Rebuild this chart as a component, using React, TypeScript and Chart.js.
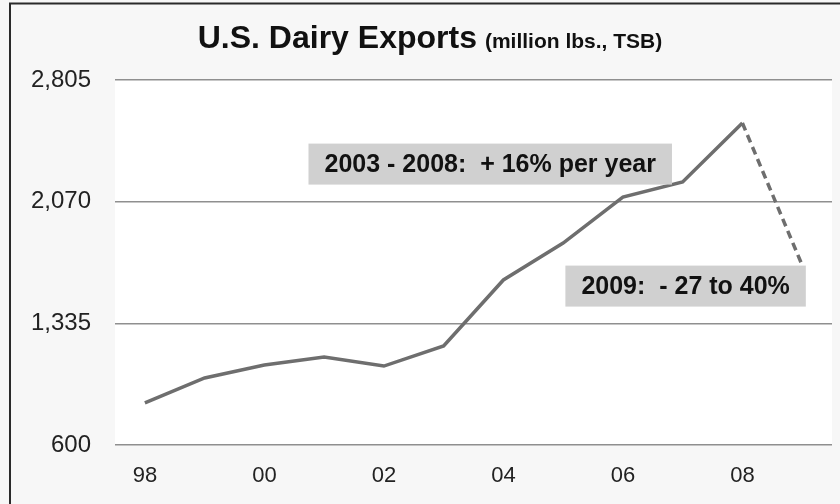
import React, { useEffect, useRef } from "react";
import { Chart, registerables } from "chart.js";

Chart.register(...registerables);

const years = ["98", "99", "00", "01", "02", "03", "04", "05", "06", "07", "08", "09"];
const exportsLbs = [854, 1005, 1083, 1131, 1077, 1198, 1597, 1820, 2098, 2189, 2545, 1687];
const yTicks = [600, 1335, 2070, 2805];
const titleMain = "U.S. Dairy Exports";
const titleSub = "(million lbs., TSB)";
const noteTexts = ["2003 - 2008:  + 16% per year", "2009:  - 27 to 40%"];
const noteX = [5.78, 9.05];
const noteY = [2297, 1560];

const FONT = '"Liberation Sans", Arial, Helvetica, sans-serif';

const decorPlugin = {
  id: "decor",
  beforeDraw(chart: any) {
    const { ctx, chartArea, width, height } = chart;
    ctx.save();
    ctx.fillStyle = "#f7f7f7";
    ctx.fillRect(0, 0, width, height);
    ctx.fillStyle = "#ffffff";
    ctx.fillRect(chartArea.left, chartArea.top, chartArea.right - chartArea.left, chartArea.bottom - chartArea.top);
    ctx.strokeStyle = "#2a2a2a";
    ctx.lineWidth = 2;
    ctx.beginPath();
    ctx.moveTo(10, height);
    ctx.lineTo(10, 3.5);
    ctx.lineTo(width, 3.5);
    ctx.stroke();
    ctx.restore();
  },
  afterDraw(chart: any) {
    const { ctx, scales } = chart;
    ctx.save();
    // title
    ctx.fillStyle = "#111111";
    ctx.textBaseline = "alphabetic";
    ctx.textAlign = "left";
    ctx.font = `bold 32px ${FONT}`;
    const w1 = ctx.measureText(titleMain).width;
    ctx.font = `bold 21px ${FONT}`;
    const w2 = ctx.measureText(titleSub).width;
    const gap = 8;
    const total = w1 + gap + w2;
    const cx = chart.width / 2 + 10;
    const x0 = cx - total / 2;
    ctx.font = `bold 32px ${FONT}`;
    ctx.fillText(titleMain, x0, 48);
    ctx.font = `bold 21px ${FONT}`;
    ctx.fillText(titleSub, x0 + w1 + gap, 48);

    // notes
    ctx.font = `bold 25px ${FONT}`;
    ctx.textAlign = "center";
    ctx.textBaseline = "middle";
    for (let i = 0; i < noteTexts.length; i++) {
      const px = scales.x.getPixelForValue(noteX[i]);
      const py = scales.y.getPixelForValue(noteY[i]);
      const tw = ctx.measureText(noteTexts[i]).width;
      const bw = tw + 32;
      const bh = 41;
      ctx.fillStyle = "#d0d0d0";
      ctx.fillRect(px - bw / 2, py - bh / 2, bw, bh);
      ctx.fillStyle = "#111111";
      ctx.fillText(noteTexts[i], px, py + 1);
    }
    ctx.restore();
  },
};

export default function App() {
  const canvasRef = useRef<HTMLCanvasElement | null>(null);

  useEffect(() => {
    document.body.style.margin = "0";
    const canvas = canvasRef.current;
    if (!canvas) return;
    const chart = new Chart(canvas, {
      type: "line",
      data: {
        labels: years,
        datasets: [
          {
            data: exportsLbs,
            borderColor: "#6e6e6e",
            borderWidth: 3.5,
            pointRadius: 0,
            tension: 0,
            fill: false,
            segment: {
              borderDash: (c: any) => (c.p0DataIndex >= 10 ? [8, 5] : undefined),
            },
          },
        ],
      },
      options: {
        animation: false,
        responsive: false,
        devicePixelRatio: 1,
        layout: { padding: { top: 80, right: 8, bottom: 0, left: 0 } },
        plugins: {
          legend: { display: false },
          title: { display: false },
          tooltip: { enabled: false },
        },
        scales: {
          x: {
            type: "category",
            offset: true,
            grid: { display: false, drawTicks: false },
            border: { display: false },
            afterFit: (s: any) => {
              s.height = 59;
            },
            ticks: {
              autoSkip: false,
              maxRotation: 0,
              padding: 18,
              color: "#222222",
              font: { family: FONT, size: 22 },
              callback: (_v: any, i: number) => (i % 2 === 0 ? years[i] : ""),
            },
          },
          y: {
            min: yTicks[0],
            max: yTicks[yTicks.length - 1],
            afterFit: (s: any) => {
              s.width = 115;
            },
            afterBuildTicks: (s: any) => {
              s.ticks = yTicks.map((v) => ({ value: v }));
            },
            grid: { color: "#8f8f8f", lineWidth: 1.5, drawTicks: false },
            border: { display: false },
            ticks: {
              padding: 24,
              color: "#222222",
              font: { family: FONT, size: 24 },
              callback: (v: any) => Number(v).toLocaleString("en-US"),
            },
          },
        },
      },
      plugins: [decorPlugin],
    });
    return () => chart.destroy();
  }, []);

  return (
    <div style={{ position: "absolute", left: 0, top: 0, width: 840, height: 504 }}>
      <canvas ref={canvasRef} width={840} height={504} />
    </div>
  );
}
